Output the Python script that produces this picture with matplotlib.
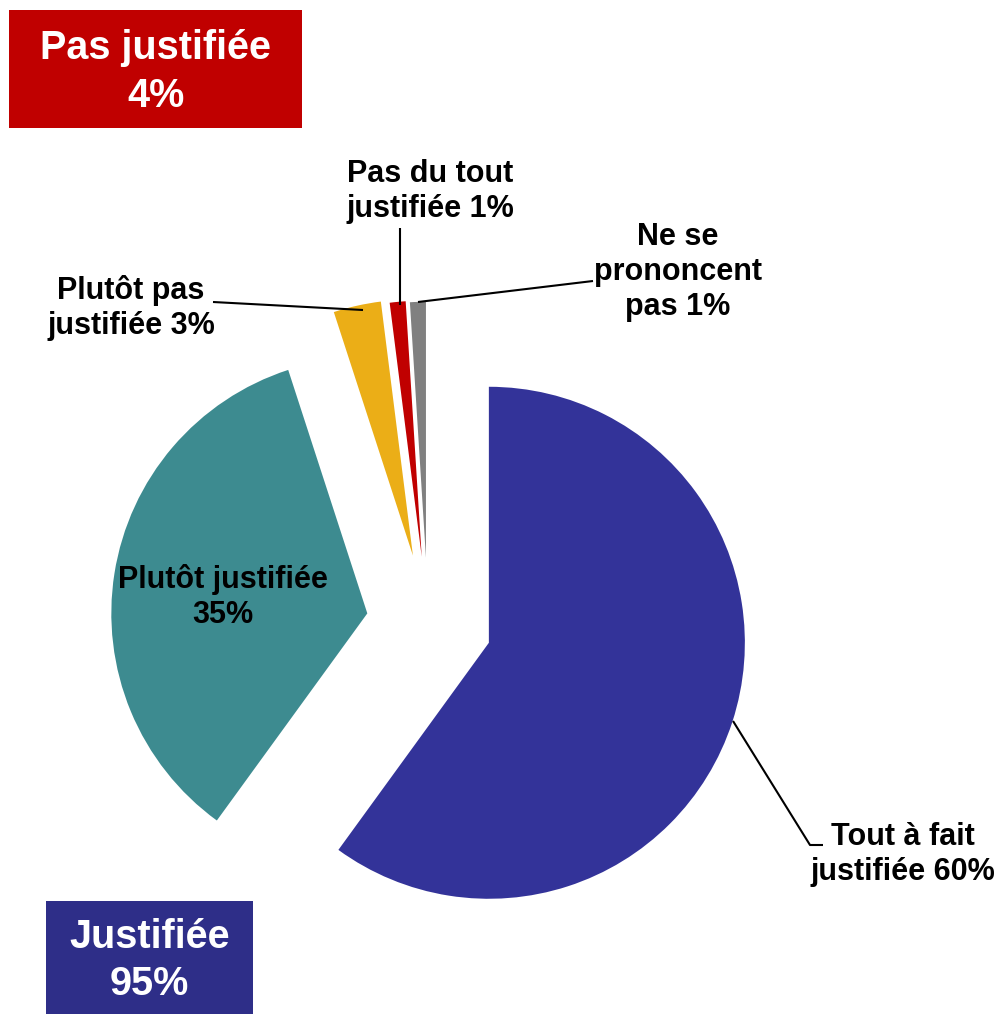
import matplotlib.pyplot as plt
from matplotlib.patches import Rectangle

plt.rcParams['font.family'] = ['Liberation Sans', 'DejaVu Sans']

# data
categories = ["Tout à fait justifiée", "Plutôt justifiée", "Plutôt pas justifiée",
              "Pas du tout justifiée", "Ne se prononcent pas"]
values = [60, 35, 3, 1, 1]
label_fmt = ["Tout à fait\njustifiée {}%", "Plutôt justifiée\n{}%", "Plutôt pas\njustifiée {}%",
             "Pas du tout\njustifiée {}%", "Ne se\nprononcent\npas {}%"]
group_names = ["Pas justifiée", "Justifiée"]
group_values = [4, 95]

# style
colors = ["#333399", "#3D8B90", "#EBAE17", "#C00000", "#808080"]
explode_frac = [0.25, 0.24, 0.27, 0.26, 0.255]
group_colors = ["#C00000", "#2E2E88"]

W, H = 1000, 1015
R = 256
CX, CY = 428, 623  # pie center, image pixels (y down)


def iy(y):
    # image y (down) -> axes y (up)
    return H - y


fig = plt.figure(figsize=(W / 100, H / 100), dpi=100)
ax = fig.add_axes([0, 0, 1, 1])
ax.pie(values, colors=colors, explode=[f * R for f in explode_frac],
       startangle=90, counterclock=False, radius=R, center=(CX, iy(CY)),
       wedgeprops=dict(linewidth=0))
ax.set_xlim(0, W)
ax.set_ylim(0, H)
ax.set_aspect('equal')
ax.axis('off')

# slice labels: (center x, last-line baseline y) in image pixels
label_pos = [(903, 880), (223, 623), (131, 334), (430, 217), (678, 315)]
for fmt, v, (x, y) in zip(label_fmt, values, label_pos):
    ax.text(x, iy(y), fmt.format(v), ha='center', va='baseline',
            fontsize=22, fontweight='bold', color='black', linespacing=1.22)

# leader lines
leaders = [
    [(733, 721), (810, 845), (823, 845)],
    None,
    [(213, 302), (363, 310)],
    [(400, 228), (400, 305)],
    [(418, 302), (593, 281)],
]
for pts in leaders:
    if pts is None:
        continue
    xs = [p[0] for p in pts]
    ys = [iy(p[1]) for p in pts]
    ax.plot(xs, ys, color='black', lw=1.5, solid_capstyle='butt')

# summary boxes: (x0, y0, x1, y1) in image pixels
boxes = [(9, 10, 302, 128), (46, 901, 253, 1014)]
for name, v, c, (x0, y0, x1, y1) in zip(group_names, group_values, group_colors, boxes):
    ax.add_patch(Rectangle((x0, iy(y1)), x1 - x0, y1 - y0, facecolor=c, edgecolor='none'))
    ax.text((x0 + x1) / 2, iy((y0 + y1) / 2 + 3), f"{name}\n{v}%", ha='center', va='center',
            fontsize=28.5, fontweight='bold', color='white', linespacing=1.32)

fig.savefig("out.png", dpi=100)
